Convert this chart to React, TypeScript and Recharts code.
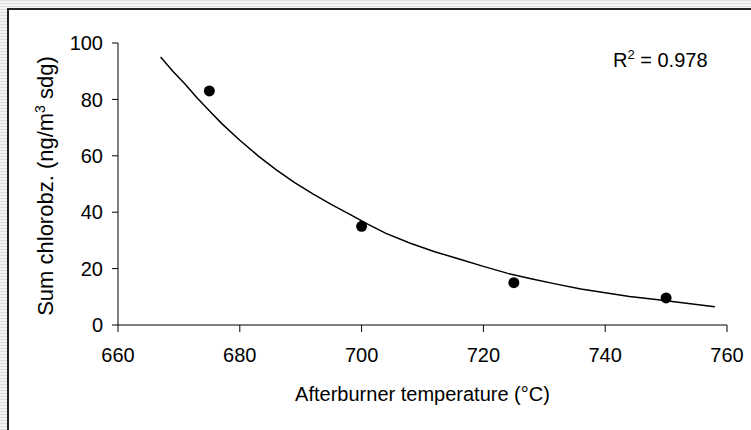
import { ComposedChart, Line, Scatter, XAxis, YAxis, Label } from "recharts"

const FONT = "'Liberation Sans', Arial, sans-serif"

// measured points
const tempPoints = [675, 700, 725, 750]
const chlorobzValues = [83, 35, 15, 9.6]

// fitted trendline
const fitTemps = [667, 669, 671, 673, 675, 677, 680, 683, 686, 689, 692, 695, 698, 701, 704, 708, 712, 716, 720, 724, 728, 732, 736, 740, 744, 748, 752, 755, 758]
const fitValues = [95, 90, 85.5, 80.5, 76, 71.5, 65.5, 60, 55, 50.5, 46.5, 42.8, 39.3, 35.8, 32.5, 29, 26, 23.4, 20.8, 18.3, 16.3, 14.5, 12.8, 11.4, 10.1, 9.1, 8.1, 7.3, 6.5]

const xTicks = [660, 680, 700, 720, 740, 760]
const yTicks = [0, 20, 40, 60, 80, 100]

const points = tempPoints.map((x, i) => ({ x, y: chlorobzValues[i] }))
const fit = fitTemps.map((x, i) => ({ x, y: fitValues[i] }))

const Dot = (props: any) => <circle cx={props.cx} cy={props.cy} r={5.5} fill="#000" />

const YLabel = () => (
  <text
    x={53}
    y={186}
    transform="rotate(-90, 53, 186)"
    textAnchor="middle"
    fontSize={22}
    fontFamily={FONT}
    fill="#000"
  >
    Sum chlorobz. (ng/m
    <tspan dy={-8} fontSize={14}>3</tspan>
    <tspan dy={8}> sdg)</tspan>
  </text>
)

const XLabel = () => (
  <text x={422.5} y={401} textAnchor="middle" fontSize={20} fontFamily={FONT} fill="#000">
    Afterburner temperature (°C)
  </text>
)

export default function App() {
  return (
    <div
      style={{
        position: "absolute",
        left: 0,
        top: 0,
        width: 751,
        height: 430,
        background: "repeating-linear-gradient(to bottom, #dcdcdc 0px, #dcdcdc 1px, #f4f4f4 1px, #f4f4f4 3px)",
        overflow: "hidden",
      }}
    >
      <div
        style={{
          position: "absolute",
          left: 7,
          top: 8,
          right: 0,
          bottom: 0,
          background: "#fff",
          borderLeft: "2px solid #222",
          borderTop: "2px solid #222",
        }}
      />
      <div style={{ position: "absolute", left: 0, top: 0 }}>
        <ComposedChart width={751} height={430} margin={{ top: 43, right: 24, left: 58, bottom: 75 }}>
          <XAxis
            dataKey="x"
            type="number"
            domain={[660, 760]}
            ticks={xTicks}
            allowDataOverflow
            height={30}
            tickSize={7}
            tickMargin={16}
            stroke="#000"
            tick={{ fill: "#000", fontSize: 20, fontFamily: FONT }}
          >
            <Label content={<XLabel />} />
          </XAxis>
          <YAxis
            type="number"
            domain={[0, 100]}
            ticks={yTicks}
            width={60}
            tickSize={6}
            tickMargin={9}
            stroke="#000"
            tick={{ fill: "#000", fontSize: 20, fontFamily: FONT }}
          >
            <Label content={<YLabel />} />
          </YAxis>
          <Line
            data={fit}
            dataKey="y"
            type="linear"
            stroke="#000"
            strokeWidth={1.5}
            dot={false}
            isAnimationActive={false}
          />
          <Scatter data={points} dataKey="y" shape={<Dot />} isAnimationActive={false} />
          <text x={613} y={67} fontSize={20} fontFamily={FONT} fill="#000">
            R<tspan dy={-8} fontSize={13}>2</tspan>
            <tspan dy={8}> = 0.978</tspan>
          </text>
        </ComposedChart>
      </div>
    </div>
  )
}
